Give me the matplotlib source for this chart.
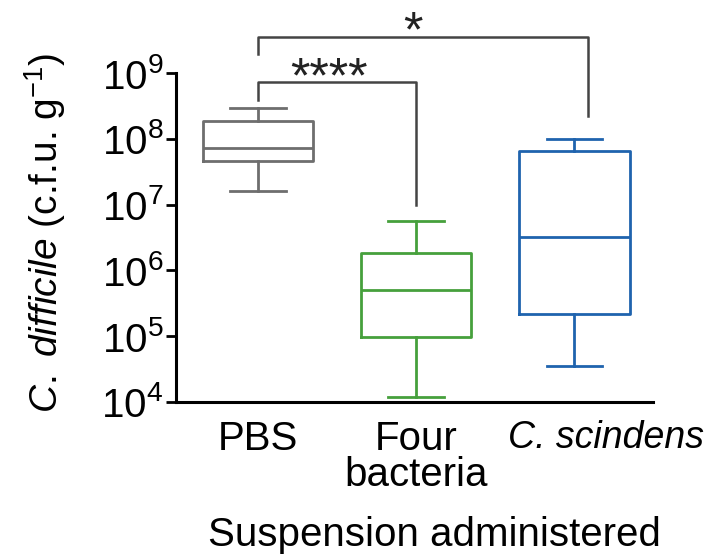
import matplotlib
matplotlib.use('Agg')
import matplotlib.pyplot as plt
from matplotlib.transforms import ScaledTranslation

plt.rcParams['font.family'] = ['Liberation Sans', 'DejaVu Sans']
plt.rcParams['mathtext.fontset'] = 'custom'
plt.rcParams['mathtext.rm'] = 'Liberation Sans'
plt.rcParams['mathtext.it'] = 'Liberation Sans:italic'

# Données (c.f.u. par g)
groups = ['PBS', 'Four\nbacteria', 'C. scindens']
whis_low = [1.6e7, 1.2e4, 3.5e4]
q1 = [4.7e7, 9.8e4, 2.2e5]
medians = [7.2e7, 5.1e5, 3.2e6]
q3 = [1.9e8, 1.87e6, 6.5e7]
whis_high = [3.0e8, 5.7e6, 1.0e8]
colors = ['#6e6e6e', '#46a03c', '#1f63ae']
stars = ['****', '*']

fig = plt.figure(figsize=(7.21, 5.59), dpi=100)
ax = fig.add_axes([0.244, 0.281, 0.662, 0.588])

stats = []
for i in range(len(groups)):
    stats.append({'whislo': whis_low[i], 'q1': q1[i], 'med': medians[i],
                  'q3': q3[i], 'whishi': whis_high[i], 'fliers': []})

positions = [1, 2, 3]
lw = 2.0
for s, pos, c in zip(stats, positions, colors):
    ax.bxp([s], positions=[pos], widths=0.7, showfliers=False,
           boxprops=dict(color=c, linewidth=lw),
           medianprops=dict(color=c, linewidth=lw),
           whiskerprops=dict(color=c, linewidth=lw),
           capprops=dict(color=c, linewidth=lw))

ax.set_yscale('log')
ax.set_ylim(1e4, 1e9)
ax.set_xlim(0.48, 3.5)
ax.set_yticks([1e4, 1e5, 1e6, 1e7, 1e8, 1e9])
ax.set_yticklabels([r'$10^{%d}$' % e for e in range(4, 10)])
ax.yaxis.set_minor_locator(matplotlib.ticker.NullLocator())
ax.tick_params(axis='y', labelsize=29, length=7, width=2.0, pad=2)
ax.tick_params(axis='x', labelsize=29, length=0, pad=13)
ax.set_xticks(positions)
labels = ax.set_xticklabels(groups, linespacing=0.95)
labels[2].set_style('italic')
labels[2].set_fontsize(27)
labels[2].set_transform(labels[2].get_transform() + ScaledTranslation(0.32, 0, fig.dpi_scale_trans))

ax.spines['top'].set_visible(False)
ax.spines['right'].set_visible(False)
ax.spines['left'].set_linewidth(2.2)
ax.spines['bottom'].set_linewidth(2.2)

fig.text(0.062, 0.583, r'$\it{C.}$ $\it{difficile}$ (c.f.u. g$^{-1}$)', fontsize=28,
         rotation=90, ha='center', va='center')
fig.text(0.602, 0.043, 'Suspension administered', fontsize=29, ha='center', va='center')

# Crochets de significativité
bc = '#444444'
ax.plot([1, 1, 2, 2], [10**8.6, 10**8.86, 10**8.86, 10**6.99], color=bc, lw=1.8, clip_on=False)
ax.text(1.45, 10**8.71, stars[0], fontsize=36, ha='center', va='baseline', color='#222222')
ax.plot([1, 1, 3.09, 3.09], [10**9.3, 10**9.55, 10**9.55, 10**8.345], color=bc, lw=1.8, clip_on=False)
ax.text(1.98, 10**9.41, stars[1], fontsize=36, ha='center', va='baseline', color='#222222')

fig.savefig('out.png', dpi=100)
